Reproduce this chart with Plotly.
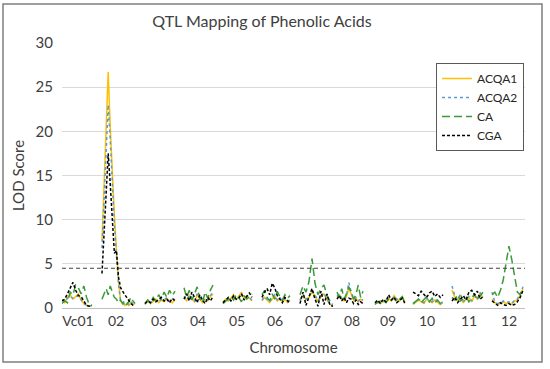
import numpy as np
import plotly.graph_objects as go

# ---- data ----
chromosomes = ["Vc01", "02", "03", "04", "05", "06", "07", "08", "09", "10", "11", "12"]
chrom_start = [0, 40, 83, 122, 161, 200, 238, 275, 313, 351, 390, 430]
chrom_end = [30, 73, 113, 151, 190, 228, 271, 301, 343, 381, 421, 461]
tick_pos = [16, 54, 97, 136, 175, 213, 251, 290, 326, 365, 407, 447]
THRESHOLD = 4.5

ACQA1 = [
    [1.0, 0.6, 1.2, 1.5, 1.0, 1.3, 1.6, 0.9, 0.5, 0.3, 0.2, 0.3],
    [7.6, 13.5, 19.5, 26.7, 20.5, 15.0, 10.5, 6.5, 3.0, 0.8, 0.5, 0.3, 0.5, 0.3, 0.6, 0.4, 0.5],
    [0.6, 0.9, 0.5, 0.8, 1.0, 0.6, 0.9, 0.7, 1.1, 0.8, 0.6, 0.9],
    [1.2, 0.8, 1.4, 1.0, 0.7, 1.5, 1.1, 0.6, 1.0, 0.8, 1.3, 1.6],
    [0.7, 1.0, 0.8, 1.2, 1.5, 0.9, 1.3, 1.8, 1.0, 1.4, 1.1, 0.8],
    [0.8, 1.2, 0.9, 0.6, 1.0, 1.4, 0.8, 1.1, 0.7, 1.0, 0.6, 0.9],
    [0.8, 1.5, 0.9, 1.2, 1.8, 1.4, 0.7, 1.3, 1.6, 0.9, 0.4, 0.3],
    [1.2, 1.5, 1.0, 0.8, 1.3, 2.2, 1.6, 0.9, 1.1, 0.7, 1.0, 0.8],
    [0.5, 0.6, 0.8, 0.7, 0.9, 1.1, 0.8, 1.4, 1.0, 0.8, 1.2, 0.7],
    [0.4, 0.6, 0.9, 0.7, 0.5, 1.0, 0.8, 0.6, 0.9, 0.7, 0.4, 0.6],
    [2.0, 1.2, 0.8, 1.5, 0.6, 1.0, 1.2, 0.7, 1.4, 1.0, 1.6, 1.2],
    [1.0, 0.6, 0.4, 0.5, 0.7, 0.5, 0.6, 0.4, 0.8, 0.9, 1.5, 2.2],
]
ACQA2 = [
    [0.9, 0.7, 1.1, 1.3, 1.1, 1.2, 1.4, 1.0, 0.5, 0.3, 0.2, 0.3],
    [6.8, 12.5, 17.5, 23.0, 19.0, 14.0, 9.5, 6.0, 2.7, 0.8, 0.6, 0.4, 0.6, 0.4, 0.7, 0.5, 0.6],
    [0.5, 0.8, 0.6, 0.9, 0.8, 0.7, 1.0, 0.9, 1.2, 0.7, 0.8, 1.0],
    [1.3, 0.9, 1.5, 1.1, 0.8, 1.6, 1.2, 0.7, 1.1, 0.9, 1.4, 1.8],
    [0.6, 0.9, 0.9, 1.1, 1.3, 1.0, 1.2, 1.6, 1.1, 1.3, 1.2, 0.9],
    [0.9, 1.3, 1.0, 0.7, 1.1, 1.5, 0.9, 1.2, 0.8, 1.1, 0.7, 1.0],
    [0.9, 1.6, 1.0, 1.3, 2.0, 1.5, 0.8, 1.4, 1.7, 1.0, 0.5, 0.4],
    [1.3, 1.6, 1.1, 0.9, 1.4, 2.9, 1.8, 1.0, 1.2, 0.8, 1.1, 0.9],
    [0.5, 0.7, 0.8, 0.8, 1.0, 1.0, 0.9, 1.3, 1.0, 0.9, 1.1, 0.8],
    [0.5, 0.7, 1.0, 0.8, 0.6, 1.1, 0.9, 0.7, 1.0, 0.8, 0.5, 0.7],
    [2.5, 1.4, 0.9, 1.6, 0.7, 1.1, 1.3, 0.8, 1.5, 1.1, 1.7, 1.3],
    [1.8, 0.7, 0.5, 0.6, 0.8, 0.6, 0.7, 0.5, 0.9, 1.0, 1.6, 2.4],
]
CA = [
    [0.5, 0.8, 0.6, 1.8, 1.5, 2.6, 2.3, 1.6, 2.5, 1.2, 0.4, 0.3],
    [1.0, 1.6, 2.2, 1.5, 2.5, 1.8, 1.2, 1.0, 0.6, 0.9, 0.5, 0.8, 0.4, 0.7, 1.2, 0.8, 0.5],
    [0.4, 0.9, 0.6, 1.2, 0.8, 1.5, 1.0, 1.8, 1.2, 2.0, 1.4, 1.9],
    [2.3, 1.2, 2.0, 0.9, 1.6, 2.4, 1.0, 0.6, 1.8, 1.1, 2.0, 2.6],
    [0.5, 0.8, 1.0, 1.3, 0.9, 1.5, 1.2, 0.7, 1.4, 1.0, 1.3, 1.6],
    [1.5, 2.0, 1.2, 0.8, 1.6, 1.0, 1.9, 1.3, 0.9, 1.5, 1.1, 1.4],
    [1.5, 2.5, 1.8, 3.0, 5.6, 2.8, 1.5, 2.2, 2.6, 1.4, 0.8, 0.5],
    [1.8, 1.2, 2.2, 1.0, 1.6, 2.4, 1.8, 1.0, 1.5, 2.6, 1.2, 1.9],
    [0.4, 0.7, 0.5, 0.9, 0.6, 1.0, 0.8, 1.2, 0.7, 1.0, 1.3, 0.6],
    [0.5, 0.8, 1.0, 0.6, 0.9, 1.3, 0.7, 1.1, 0.6, 0.9, 0.5, 0.8],
    [1.2, 0.9, 1.5, 0.8, 1.0, 1.3, 0.7, 1.2, 1.6, 0.9, 1.4, 1.8],
    [1.5, 1.8, 1.2, 2.0, 3.2, 5.0, 7.0, 5.5, 3.5, 1.8, 1.5, 2.2],
]
CGA = [
    [0.8, 1.0, 1.6, 2.3, 2.9, 2.0, 1.4, 1.3, 0.8, 0.3, 0.2, 0.2],
    [3.9, 8.5, 13.5, 17.5, 14.0, 9.8, 6.2, 6.5, 3.5, 2.3, 1.8, 1.5, 1.2, 0.8, 0.5, 0.3, 0.3],
    [0.5, 0.8, 0.6, 1.0, 0.7, 0.9, 1.2, 0.8, 1.0, 0.6, 1.1, 0.8],
    [1.0, 1.6, 0.8, 1.8, 1.2, 0.6, 1.5, 0.9, 0.5, 1.2, 0.8, 1.3],
    [0.6, 0.9, 1.2, 0.8, 1.4, 1.0, 1.1, 1.6, 0.9, 1.3, 1.7, 1.2],
    [1.2, 1.8, 2.2, 1.5, 2.8, 2.3, 1.4, 1.0, 0.6, 1.2, 0.8, 0.5],
    [0.5, 1.8, 0.3, 1.2, 2.2, 1.0, 0.2, 1.9, 0.4, 1.6, 0.3, 0.2],
    [1.0, 1.4, 0.8, 1.2, 0.6, 1.1, 1.0, 0.5, 0.9, 0.4, 0.7, 0.5],
    [0.6, 0.9, 0.5, 1.0, 0.7, 1.5, 0.9, 1.2, 0.6, 0.8, 1.1, 0.5],
    [1.8, 1.6, 1.4, 1.9, 1.5, 1.2, 1.7, 1.9, 1.3, 1.6, 1.2, 1.5],
    [0.8, 1.2, 0.6, 1.0, 1.4, 0.9, 1.8, 2.0, 1.5, 1.9, 1.0, 1.3],
    [0.8, 0.5, 0.3, 0.6, 0.4, 0.3, 0.5, 0.3, 0.4, 0.7, 1.2, 2.0],
]

series_names = ["ACQA1", "ACQA2", "CA", "CGA"]
series_data = [ACQA1, ACQA2, CA, CGA]
series_colors = ["#FFC000", "#5B9BD5", "#3A9A3A", "#000000"]
series_dash = ["solid", "dot", "8px,4px", "3px,2px"]


def build(segs):
    xs, ys = [], []
    for s, e, vals in zip(chrom_start, chrom_end, segs):
        xs.extend(np.linspace(s, e, len(vals)).tolist())
        ys.extend(vals)
        xs.append(None)
        ys.append(None)
    return xs, ys


W, H = 550, 369
ML, MR, MT, MB = 62, 25, 43, 61
PW, PH = W - ML - MR, H - MT - MB

fig = go.Figure()
for name, segs, col, dash in zip(series_names, series_data, series_colors, series_dash):
    xs, ys = build(segs)
    fig.add_trace(go.Scatter(x=xs, y=ys, mode="lines", name=name,
                             line=dict(color=col, width=1.5, dash=dash),
                             connectgaps=False))

# threshold line
fig.add_shape(type="line", xref="paper", yref="y", x0=0, x1=1,
              y0=THRESHOLD, y1=THRESHOLD,
              line=dict(color="#404040", width=1.2, dash="4px,3px"))

# outer chart border
fig.add_shape(type="rect", xref="paper", yref="paper",
              x0=(3 - ML) / PW, x1=(542 - ML) / PW,
              y0=(MT + PH - 362) / PH, y1=(MT + PH - 4) / PH,
              line=dict(color="#7F7F7F", width=1.5), layer="below")

font_family = "Lato, Open Sans, sans-serif"
fig.update_layout(
    width=W, height=H,
    margin=dict(l=ML, r=MR, t=MT, b=MB),
    paper_bgcolor="white", plot_bgcolor="white",
    font=dict(family=font_family, size=13, color="#595959"),
    title=dict(text="QTL Mapping of Phenolic Acids", x=(262) / W, xanchor="center",
               y=1 - 21 / H, yanchor="middle",
               font=dict(family=font_family, size=16, color="#404040")),
    showlegend=True,
    legend=dict(x=(436 - ML) / PW, y=(MT + PH - 63) / PH, xanchor="left", yanchor="top",
                bordercolor="#595959", borderwidth=1, bgcolor="white",
                font=dict(family=font_family, size=12, color="#262626"),
                itemwidth=30, tracegroupgap=0),
    xaxis=dict(range=[0, PW], tickmode="array", tickvals=tick_pos, ticktext=chromosomes,
               showgrid=False, zeroline=False, showline=True, linecolor="#BFBFBF",
               linewidth=1, ticks="", tickfont=dict(size=14, color="#404040"),
               title=dict(text="Chromosome", standoff=14,
                          font=dict(size=15, color="#404040"))),
    yaxis=dict(range=[0, 30], dtick=5, showgrid=True, gridcolor="#D9D9D9", gridwidth=1,
               zeroline=False, showline=False, ticks="", ticklabelstandoff=8,
               tickfont=dict(size=15, color="#404040"),
               title=dict(text="LOD Score", standoff=7,
                          font=dict(size=15, color="#404040"))),
)

fig.write_html("out.html", post_script="document.body.style.margin='0';",
               config={"displayModeBar": False})
